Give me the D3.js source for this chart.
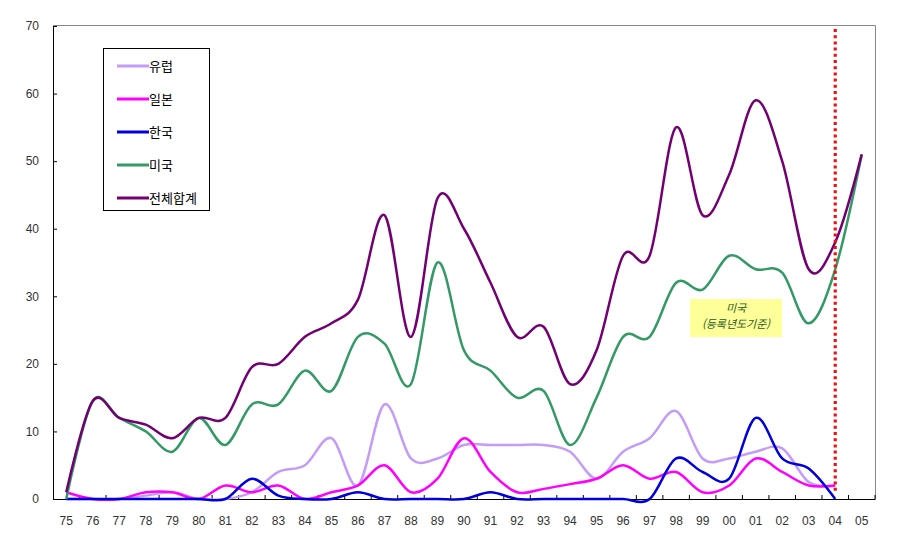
<!DOCTYPE html>
<html lang="ko"><head>
<meta charset="utf-8">
<title>chart</title>
<script src="https://cdn.jsdelivr.net/npm/d3@7"></script>
<style>
  body { margin: 0; background: #fff; }
  text { font-family: "Liberation Sans", "Noto Sans CJK KR", sans-serif; }
</style>
</head>
<body>
<svg width="903" height="540"></svg>
<script>
// data
var years = ["75","76","77","78","79","80","81","82","83","84","85","86","87","88","89","90",
             "91","92","93","94","95","96","97","98","99","00","01","02","03","04","05"];
var europe = [0,0,0,0.5,1,0,0,1,4,5,9,2,14,6,6,8,8,8,8,7,3,7,9,13,6,6,7,7.5,2.5,2,null];
var japan  = [1,0,0,1,1,0,2,1,2,0,1,2,5,1,3,9,4,1,1.5,2.2,3,5,3,4,1,2,6,4,2,2,null];
var korea  = [0,0,0,0,0,0,0,3,0.5,0,0,1,0,0,0,0,1,0,0,0,0,0,0,6,4,3,12,6,4.5,0,null];
var usa    = [0,14.5,12,10,7,12,8,14,14,19,16,24,23,17,35,22,19,15,16,8,15,24,24,32,31,36,34,33.5,26,34,51];
var total  = [1,14.5,12,11,9,12,12,19.5,20,24,26,29.5,42,24,44.5,40,32,24,25.5,17,22,36,36,55,42,48,59,50,34,38,51];
var seriesNames = ["유럽","일본","한국","미국","전체합계"];
var seriesColors = ["#c49cf8","#ff00ff","#0000dd","#339966","#720072"];
var yTicks = [0,10,20,30,40,50,60,70];
var markerYear = "04";

var svg = d3.select("svg");
var pLeft = 53, pRight = 875, pTop = 26, pBottom = 499;

var x = d3.scaleBand().domain(years).range([pLeft, pRight]).padding(0);
var y = d3.scaleLinear().domain([0, 70]).range([pBottom, pTop]);
var cx = function(d) { return x(d) + x.bandwidth() / 2; };

// frame (grey top/right)
svg.append("path")
  .attr("d", "M" + pLeft + "," + (pTop - 0.5) + "H" + (pRight + 0.5) + "V" + pBottom)
  .attr("fill", "none").attr("stroke", "#888").attr("stroke-width", 1);

// y axis
var yAxis = svg.append("g")
  .attr("transform", "translate(" + pLeft + ",0)")
  .call(d3.axisLeft(y).tickValues(yTicks).tickSize(-4).tickPadding(14));
yAxis.select(".domain").attr("stroke", "#000");
yAxis.selectAll("text").attr("font-size", 12).attr("fill", "#333");

// x axis: labels at centres, ticks on category borders
var xAxis = svg.append("g")
  .attr("transform", "translate(0," + pBottom + ")")
  .call(d3.axisBottom(x).tickSize(0).tickPadding(17));
xAxis.select(".domain").attr("stroke", "#000");
xAxis.selectAll("text").attr("font-size", 12).attr("fill", "#333");
svg.append("g").selectAll("line")
  .data(years)
  .enter().append("line")
  .attr("x1", function(d) { return x(d) + x.bandwidth(); })
  .attr("x2", function(d) { return x(d) + x.bandwidth(); })
  .attr("y1", pBottom - 4).attr("y2", pBottom)
  .attr("stroke", "#000");

// lines
var line = d3.line()
  .defined(function(d) { return d[1] != null; })
  .x(function(d) { return cx(d[0]); })
  .y(function(d) { return y(d[1]); })
  .curve(d3.curveCardinal.tension(0));

[europe, japan, korea, usa, total].forEach(function(vals, k) {
  svg.append("path")
    .datum(years.map(function(yr, i) { return [yr, vals[i]]; }))
    .attr("fill", "none")
    .attr("stroke", seriesColors[k])
    .attr("stroke-width", 2.5)
    .attr("stroke-linejoin", "round")
    .attr("d", line);
});

// red dotted marker at 04
svg.append("line")
  .attr("x1", cx(markerYear)).attr("x2", cx(markerYear))
  .attr("y1", y(70) + 3).attr("y2", pBottom - 8)
  .attr("stroke", "#ee1111").attr("stroke-width", 3.2)
  .attr("stroke-dasharray", "3,3.2");

// annotation
svg.append("rect")
  .attr("x", 690).attr("y", 299).attr("width", 92).attr("height", 38)
  .attr("fill", "#ffff99");
svg.append("text").attr("x", 736).attr("y", 312)
  .attr("text-anchor", "middle").attr("font-size", 11).attr("font-style", "italic")
  .attr("fill", "#255a25").style("font-family", "'Noto Sans CJK KR'")
  .text("미국");
svg.append("text").attr("x", 736).attr("y", 328)
  .attr("text-anchor", "middle").attr("font-size", 11).attr("font-style", "italic")
  .attr("fill", "#255a25").style("font-family", "'Noto Sans CJK KR'")
  .text("(등록년도기준)");

// legend
var legend = svg.append("g");
legend.append("rect")
  .attr("x", 103.5).attr("y", 48.5).attr("width", 106).attr("height", 162)
  .attr("fill", "#fff").attr("stroke", "#000");
var item = legend.selectAll("g.item").data(seriesNames).enter().append("g")
  .attr("class", "item")
  .attr("transform", function(d, i) { return "translate(0," + (66 + i * 33) + ")"; });
item.append("line")
  .attr("x1", 117).attr("x2", 149).attr("y1", 0).attr("y2", 0)
  .attr("stroke", function(d, i) { return seriesColors[i]; })
  .attr("stroke-width", 3);
item.append("text")
  .attr("x", 149).attr("y", 0).attr("dy", "0.35em")
  .attr("font-size", 13).attr("fill", "#000")
  .style("font-family", "'Noto Sans CJK KR'")
  .text(function(d) { return d; });
</script>
</body>
</html>
